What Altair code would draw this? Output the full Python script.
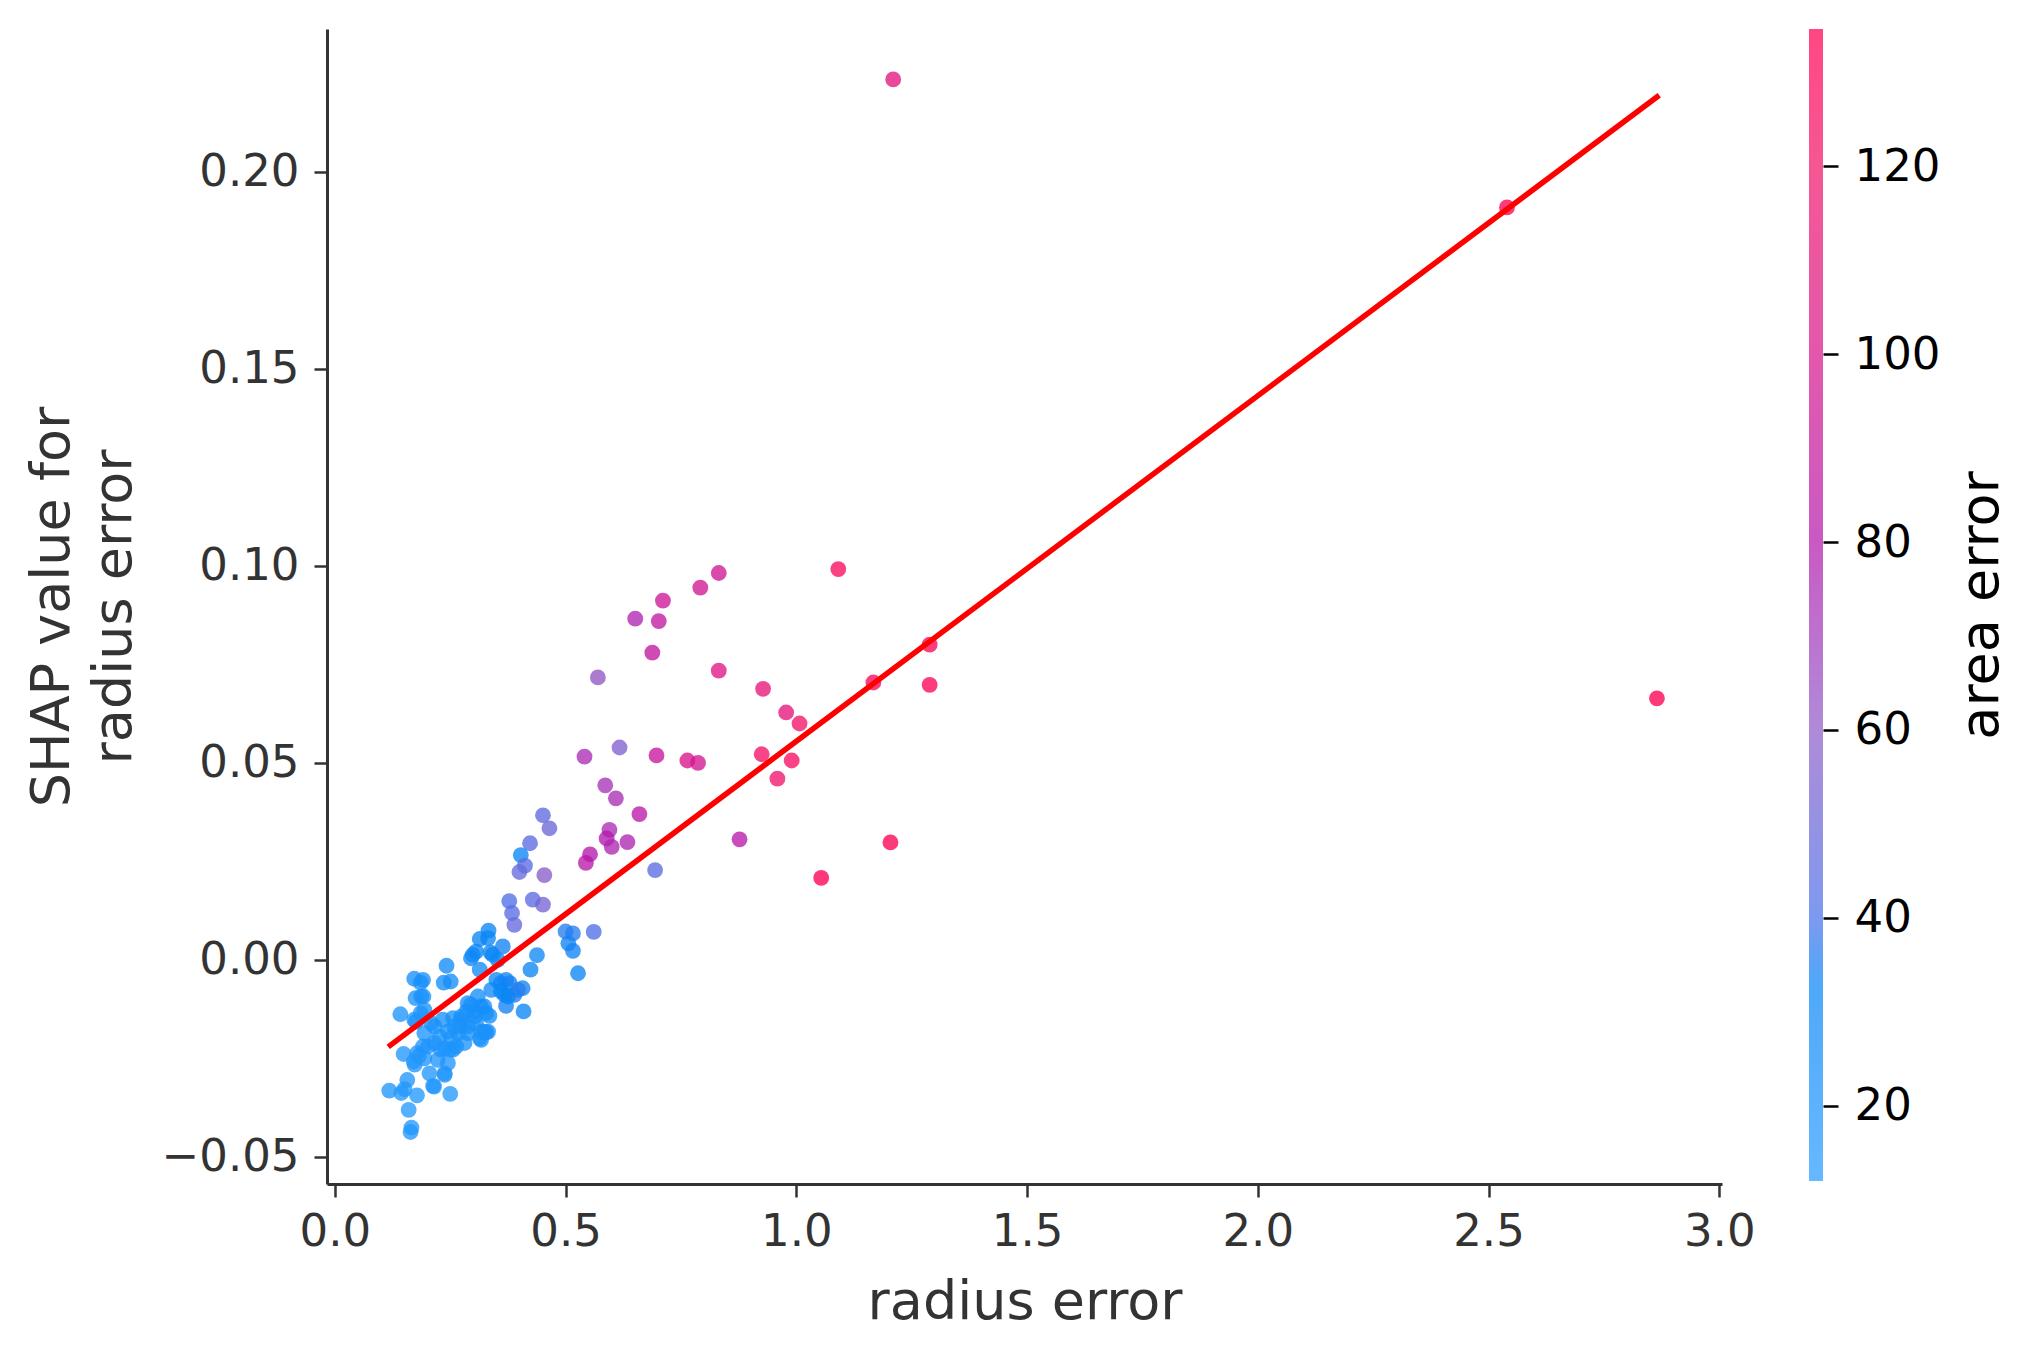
import altair as alt
import pandas as pd

# ---- scatter data: radius error (x), SHAP value (y), area error (colour) ----
radius_error = [
    1.210, 2.540, 2.865, 1.091, 0.832, 0.792, 0.711, 0.702, 0.651, 0.688,
    0.570, 0.832, 1.289, 1.167, 1.289, 0.928, 0.978, 1.007, 0.541, 0.697,
    0.617, 0.764, 0.787, 0.925, 0.990, 0.959, 0.586, 0.609, 0.660, 0.465,
    0.451, 0.595, 0.589, 0.600, 0.634, 0.553, 0.544, 0.423, 0.403, 0.412,
    0.400, 0.454, 0.877, 1.204, 1.054, 0.694, 0.378, 0.384, 0.429, 0.451,
    0.389, 0.500, 0.516, 0.561, 0.506, 0.516, 0.527, 0.438, 0.424, 0.409,
    0.118, 0.142, 0.149, 0.151, 0.157, 0.160, 0.166, 0.164, 0.172, 0.186,
    0.175, 0.192, 0.178, 0.186, 0.172, 0.171, 0.182, 0.202, 0.194, 0.209,
    0.205, 0.213, 0.223, 0.227, 0.238, 0.238, 0.245, 0.236, 0.251, 0.242,
    0.250, 0.256, 0.256, 0.270, 0.274, 0.281, 0.285, 0.295, 0.295, 0.299,
    0.306, 0.314, 0.333, 0.332, 0.314, 0.303, 0.310, 0.317, 0.328, 0.317,
    0.314, 0.332, 0.337, 0.339, 0.350, 0.360, 0.364, 0.353, 0.379, 0.368,
    0.371, 0.389, 0.407, 0.176, 0.178, 0.191, 0.216, 0.234, 0.252, 0.249,
    0.230, 0.216, 0.194, 0.173, 0.238, 0.245, 0.263, 0.288, 0.274, 0.303,
    0.317, 0.328, 0.335, 0.144, 0.215, 0.342, 0.371, 0.360, 0.397, 0.375,
    0.324, 0.288, 0.274, 0.259, 0.267, 0.288, 0.306, 0.324, 0.191, 0.187,
    0.194,
]
shap_value = [
    0.2235, 0.1910, 0.0664, 0.0992, 0.0982, 0.0945, 0.0912, 0.0860, 0.0866, 0.0780,
    0.0717, 0.0734, 0.0800, 0.0704, 0.0698, 0.0688, 0.0628, 0.0600, 0.0516, 0.0519,
    0.0539, 0.0506, 0.0500, 0.0522, 0.0506, 0.0460, 0.0443, 0.0410, 0.0370, 0.0334,
    0.0367, 0.0330, 0.0308, 0.0287, 0.0299, 0.0268, 0.0246, 0.0296, 0.0266, 0.0239,
    0.0223, 0.0215, 0.0306, 0.0298, 0.0208, 0.0228, 0.0149, 0.0119, 0.0153, 0.0140,
    0.0089, 0.0072, 0.0067, 0.0071, 0.0042, 0.0023, -0.0034, 0.0012, -0.0025, -0.0131,
    -0.0332, -0.0138, -0.0239, -0.0328, -0.0305, -0.0381, -0.0426, -0.0437, -0.0048, -0.0058,
    -0.0097, -0.0093, -0.0344, -0.0135, -0.0152, -0.0258, -0.0245, -0.0220, -0.0186, -0.0161,
    -0.0288, -0.0320, -0.0254, -0.0195, -0.0288, -0.0224, -0.0182, -0.0058, -0.0055, -0.0015,
    -0.0340, -0.0228, -0.0148, -0.0169, -0.0152, -0.0211, -0.0131, -0.0114, 0.0004, 0.0013,
    0.0021, 0.0053, 0.0074, 0.0055, -0.0025, -0.0131, -0.0093, -0.0118, -0.0135, -0.0182,
    -0.0199, -0.0182, 0.0019, -0.0076, -0.0051, -0.0059, 0.0034, 0.0000, -0.0059, -0.0089,
    -0.0117, -0.0089, -0.0072, -0.0157, -0.0237, -0.0220, -0.0169, -0.0152, -0.0199, -0.0228,
    -0.0228, -0.0211, -0.0250, -0.0266, -0.0292, -0.0262, -0.0220, -0.0186, -0.0169, -0.0144,
    -0.0203, -0.0184, -0.0142, -0.0338, -0.0322, 0.0013, -0.0051, -0.0080, -0.0076, -0.0093,
    -0.0118, -0.0110, -0.0144, -0.0169, -0.0186, -0.0169, -0.0161, -0.0182, -0.0051, -0.0093,
    -0.0127,
]
area_error = [
    108, 132, 134, 126, 95, 96, 94, 86, 76, 88,
    62, 105, 130, 128, 131, 112, 110, 120, 74, 90,
    56, 100, 98, 122, 125, 118, 72, 74, 84, 50,
    46, 74, 80, 76, 76, 80, 82, 45, 32, 45,
    48, 58, 82, 132, 134, 45, 42, 44, 45, 52,
    48, 36, 36, 42, 34, 34, 33, 30, 32, 32,
    18, 20, 17, 16, 18, 15, 16, 17, 24, 22,
    20, 21, 16, 20, 19, 18, 18, 20, 19, 22,
    17, 16, 19, 21, 18, 20, 22, 26, 26, 28,
    16, 20, 23, 21, 22, 20, 24, 25, 30, 30,
    31, 32, 33, 32, 28, 24, 26, 25, 24, 21,
    20, 22, 30, 28, 30, 32, 34, 31, 34, 33,
    34, 35, 34, 19, 18, 20, 21, 22, 20, 19,
    19, 20, 18, 17, 17, 18, 21, 22, 22, 24,
    21, 22, 25, 16, 17, 32, 34, 33, 36, 33,
    26, 24, 23, 21, 20, 22, 23, 22, 24, 22,
    21,
]

# ---- fitted trend line (endpoints) ----
line_x = [0.1156, 2.870]
line_y = [-0.0221, 0.2195]

# ---- colour scale (area error) ----
color_stops = [12, 33, 40, 60, 80, 100, 120, 134.6]
color_hex = ["#2a9dff", "#0a86f5", "#4a72ea", "#905dc8", "#b41aac", "#d8168c", "#f2156a", "#ff0052"]
cbar_min, cbar_max = 12.0, 134.6
cbar_ticks = [20, 40, 60, 80, 100, 120]

x_ticks = [0.0, 0.5, 1.0, 1.5, 2.0, 2.5, 3.0]
y_ticks = [-0.05, 0.0, 0.05, 0.10, 0.15, 0.20]

FONT = "DejaVu Sans"
AX = "#333333"
LBL = 45
TTL = 54

df = pd.DataFrame({"radius error": radius_error, "shap": shap_value, "area error": area_error})
df_line = pd.DataFrame({"radius error": line_x, "shap": line_y})

xscale = alt.Scale(domain=[-0.017, 3.006], nice=False, zero=False)
yscale = alt.Scale(domain=[-0.0569, 0.2363], nice=False, zero=False)

xaxis = alt.Axis(values=x_ticks, format=".1f", title="radius error", grid=False,
                 domainColor=AX, domainWidth=3, tickColor=AX, tickWidth=2.5, tickSize=13,
                 labelColor=AX, labelFontSize=LBL, labelFont=FONT, labelPadding=12,
                 titleColor=AX, titleFontSize=TTL, titleFont=FONT, titleFontWeight="normal",
                 titlePadding=21, labelFlush=False)
yaxis = alt.Axis(values=y_ticks, format=".2f", title=["SHAP value for", "radius error"], grid=False,
                 domainColor=AX, domainWidth=3, tickColor=AX, tickWidth=2.5, tickSize=13,
                 labelColor=AX, labelFontSize=LBL, labelFont=FONT, labelPadding=15,
                 titleColor=AX, titleFontSize=TTL, titleFont=FONT, titleFontWeight="normal",
                 titlePadding=20, titleLineHeight=62, labelFlush=False)

points = alt.Chart(df).mark_circle(size=250, opacity=0.78, strokeWidth=0).encode(
    x=alt.X("radius error:Q", scale=xscale, axis=xaxis),
    y=alt.Y("shap:Q", scale=yscale, axis=yaxis),
    color=alt.Color("area error:Q", scale=alt.Scale(domain=color_stops, range=color_hex,
                                                    interpolate="rgb", clamp=True), legend=None),
)
trend = alt.Chart(df_line).mark_line(color="#ff0000", strokeWidth=5.5).encode(
    x=alt.X("radius error:Q", scale=xscale),
    y=alt.Y("shap:Q", scale=yscale),
)
main = alt.layer(points, trend).properties(width=1395, height=1155)

span = cbar_max - cbar_min
grad = alt.Gradient(
    gradient="linear",
    stops=[alt.GradientStop(offset=(d - cbar_min) / span, color=c) for d, c in zip(color_stops, color_hex)],
    x1=0, x2=0, y1=1, y2=0,
)
cb_df = pd.DataFrame({"lo": [cbar_min], "hi": [cbar_max]})
cbar = alt.Chart(cb_df).mark_rect(color=grad, opacity=0.72).encode(
    y=alt.Y("lo:Q", scale=alt.Scale(domain=[cbar_min, cbar_max], nice=False, zero=False),
            axis=alt.Axis(orient="right", values=cbar_ticks, format="d", title="area error",
                          grid=False, domain=False, tickColor="#000000", tickWidth=2.5, tickSize=15,
                          labelColor="#000000", labelFontSize=LBL, labelFont=FONT, labelPadding=16,
                          titleColor="#000000", titleFontSize=TTL, titleFont=FONT,
                          titleFontWeight="normal", titleAngle=270, titleBaseline="top",
                          titlePadding=15)),
    y2="hi:Q",
    x=alt.value(0),
    x2=alt.value(14),
).properties(width=14, height=1152)

chart = alt.hconcat(main, cbar, spacing=87, bounds="flush").properties(
    padding={"left": 25, "top": 29, "right": 5, "bottom": 5},
    background="white",
).configure_view(strokeWidth=0, stroke="transparent")

chart.save("out.html", embed_options={"renderer": "svg", "actions": False})
